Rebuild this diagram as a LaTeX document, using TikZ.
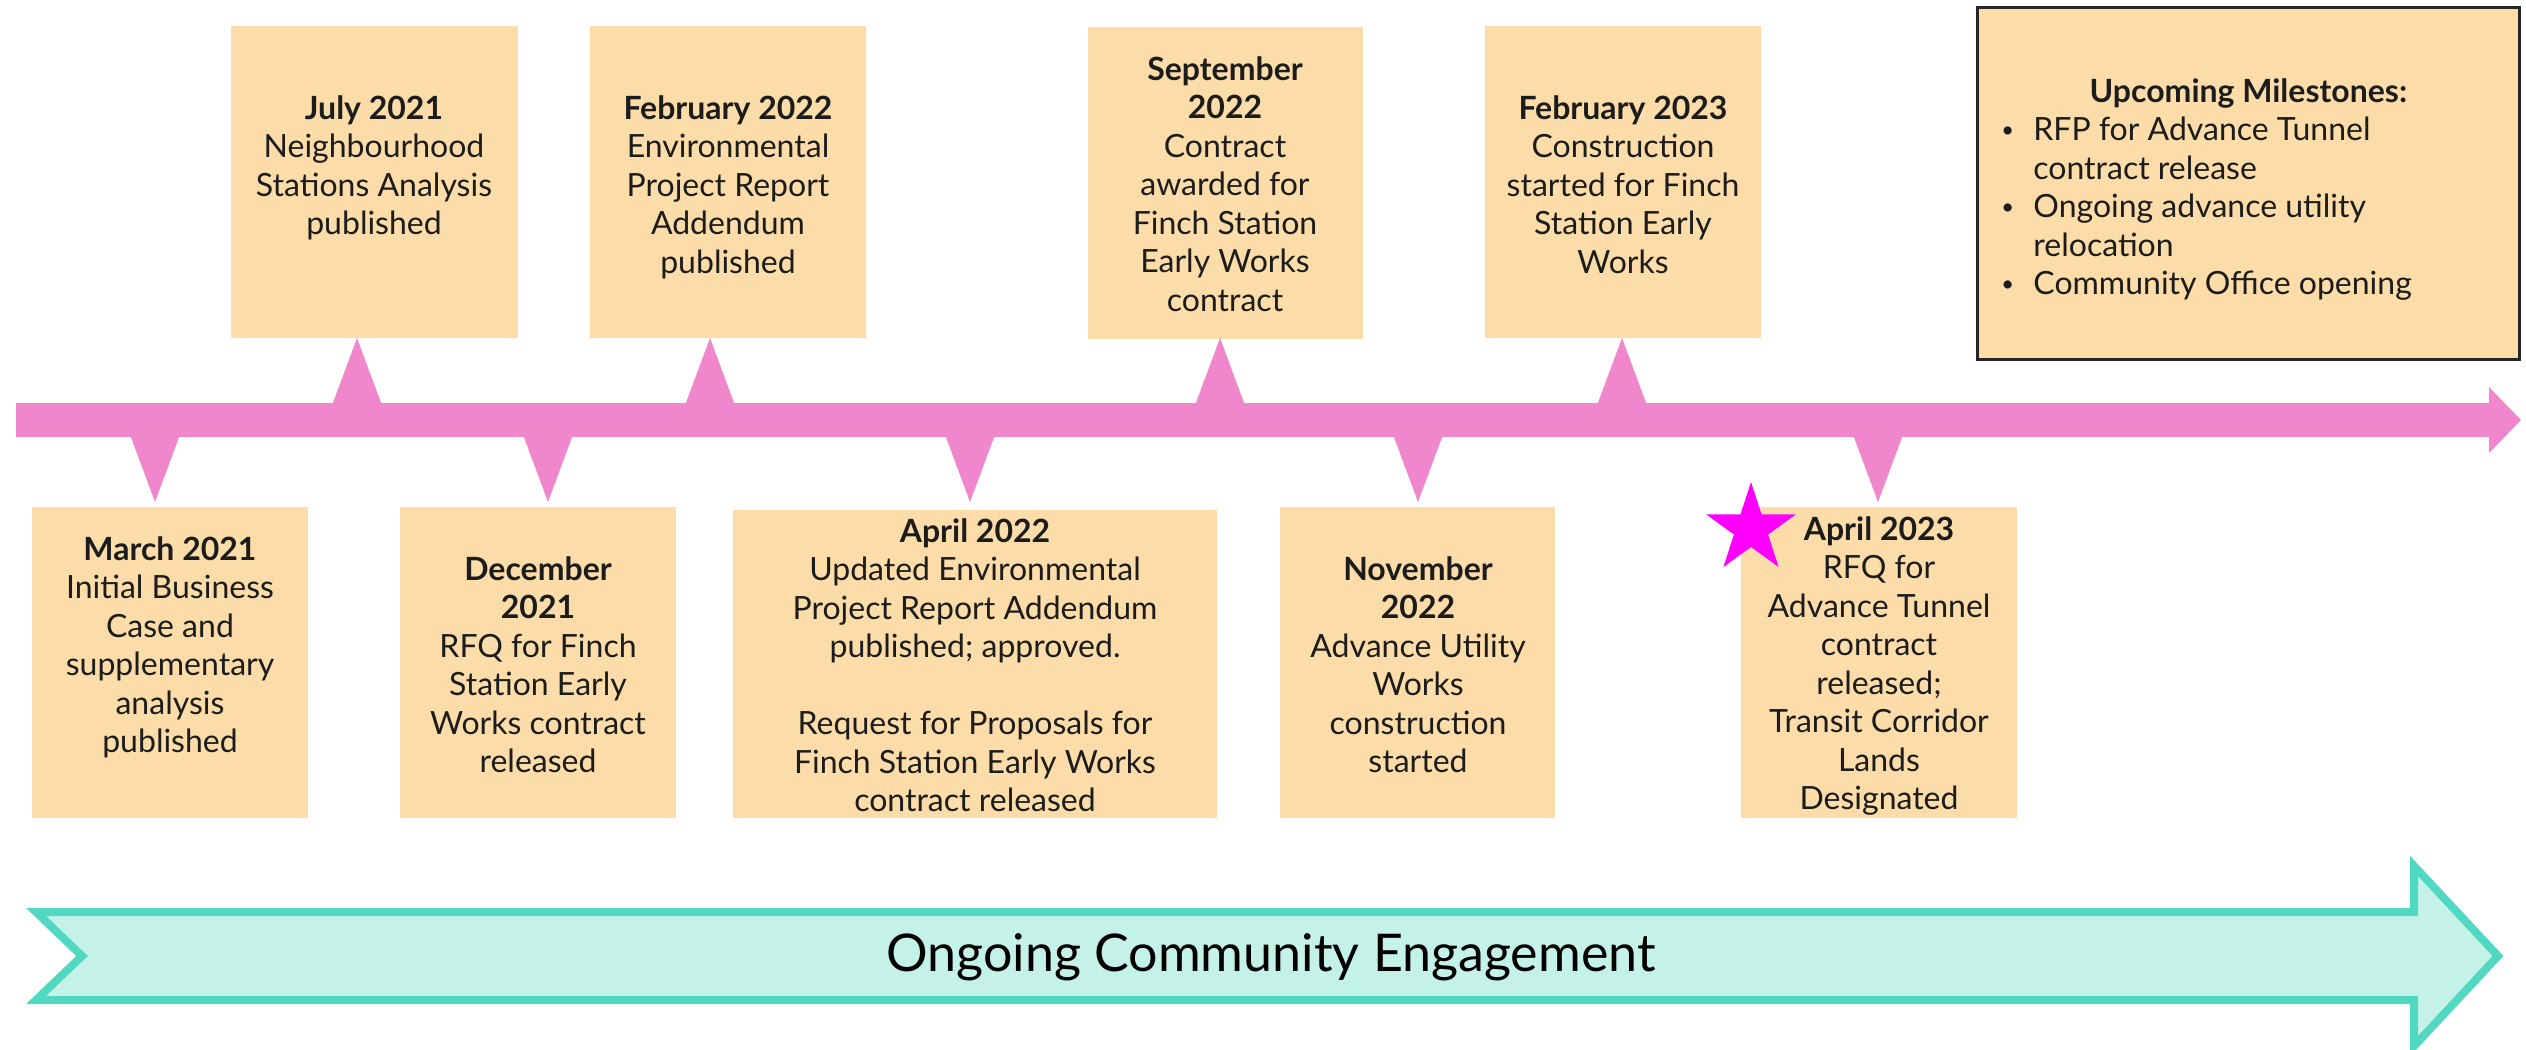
\documentclass[tikz,border=0pt]{standalone}
\usepackage{fontspec}
\setmainfont{Lato}
\usetikzlibrary{shapes.geometric}
\definecolor{peach}{HTML}{FCDCA8}
\definecolor{pinkbar}{HTML}{F086CC}
\definecolor{tealline}{HTML}{50D9C0}
\definecolor{tealfill}{HTML}{C4F2E8}
\definecolor{ink}{HTML}{1C1C1C}
\definecolor{starmag}{HTML}{FF00FF}
\definecolor{frame}{HTML}{262626}
\newcommand{\smbul}{\makebox[16pt][l]{\raisebox{1.6pt}{\fontsize{11}{11}\selectfont\textbullet}}}
\tikzset{
  card/.style={fill=peach, draw=none, inner sep=0pt},
  topcard/.style={card, minimum height=156pt},
  botcard/.style={card, minimum height=155.5pt},
  txt/.style={align=center, text=ink, inner sep=0pt, anchor=north,
    font=\fontsize{16}{19.25}\selectfont},
}
\begin{document}
\begin{tikzpicture}[x=0.5pt,y=-0.5pt]
\useasboundingbox (0,0) rectangle (2526,1049);

% timeline bar
\fill[pinkbar] (16,403) rectangle (2490,437);
\fill[pinkbar] (2489,387) -- (2521,420) -- (2489,453) -- cycle;

% top cards
\node[topcard, minimum width=143.5pt] (jul) at (374.5,182) {};
\node[topcard, minimum width=138pt] (feb22) at (728,182) {};
\node[topcard, minimum width=137.5pt] (sep) at (1225.5,182.5) {};
\node[topcard, minimum width=138pt] (feb23) at (1623,182) {};

% bottom cards
\node[botcard, minimum width=138pt] (mar) at (170,662.5) {};
\node[botcard, minimum width=138pt] (dec) at (538,662.5) {};
\node[card, minimum width=242pt, minimum height=154pt] (apr22) at (975,664) {};
\node[botcard, minimum width=137.5pt] (nov) at (1417.5,662.5) {};
\node[botcard, minimum width=138pt] (apr23) at (1879,662.5) {};

% pointers up
\foreach \px in {357,710,1220,1622}
  \fill[pinkbar] (\px-24.5,404) -- (\px,338) -- (\px+24.5,404) -- cycle;
% pointers down
\foreach \px in {155,548,970,1418,1878}
  \fill[pinkbar] (\px-24.5,436) -- (\px,502) -- (\px+24.5,436) -- cycle;

% texts top
\node[txt] (julT) at (374,95) {\textbf{July 2021}\\Neighbourhood\\Stations Analysis\\published};
\node[txt] (feb22T) at (728,95) {\textbf{February 2022}\\Environmental\\Project Report\\Addendum\\published};
\node[txt] (sepT) at (1225,56) {\textbf{September}\\\textbf{2022}\\Contract\\awarded for\\Finch Station\\Early Works\\contract};
\node[txt] (feb23T) at (1623,95) {\textbf{February 2023}\\Construction\\started for Finch\\Station Early\\Works};

% texts bottom
\node[txt] (marT) at (170,536) {\textbf{March 2021}\\Initial Business\\Case and\\supplementary\\analysis\\published};
\node[txt] (decT) at (538,556) {\textbf{December}\\\textbf{2021}\\RFQ for Finch\\Station Early\\Works contract\\released};
\node[txt] (apr22T) at (975,518) {\textbf{April 2022}\\Updated Environmental\\Project Report Addendum\\published; approved.\\[19.25pt]Request for Proposals for\\Finch Station Early Works\\contract released};
\node[txt] (novT) at (1418,556) {\textbf{November}\\\textbf{2022}\\Advance Utility\\Works\\construction\\started};
\node[txt] (apr23T) at (1879,516) {\textbf{April 2023}\\RFQ for\\Advance Tunnel\\contract\\released;\\Transit Corridor\\Lands\\Designated};

% star
\node[star, star points=5, star point ratio=2.618, fill=starmag, draw=none,
      minimum size=47pt, inner sep=0pt] (star) at (1751,529) {};

% upcoming milestones
\node[fill=peach, draw=frame, line width=1.5pt, inner sep=0pt,
      minimum width=271pt, minimum height=176pt] (upc) at (2248.5,183.5) {};
\node[align=left, text=ink, inner sep=0pt, anchor=north west,
      font=\fontsize{16}{19.25}\selectfont] (upcT) at (2001,78)
  {\makebox[247pt][c]{\bfseries Upcoming Milestones:}\\
   \smbul RFP for Advance Tunnel\\
   \makebox[16pt][l]{}contract release\\
   \smbul Ongoing advance utility\\
   \makebox[16pt][l]{}relocation\\
   \smbul Community Office opening};

% engagement arrow
\draw[tealline, fill=tealfill, line width=4pt, line join=miter]
  (36,912) -- (2414,912) -- (2414,866) -- (2498,956) -- (2414,1046)
  -- (2414,1000) -- (36,1000) -- (82,956) -- cycle;
\node[text=black, inner sep=0pt, font=\fontsize{26}{30}\selectfont] (eng) at (1271,957) {Ongoing Community Engagement};
\end{tikzpicture}
\end{document}
